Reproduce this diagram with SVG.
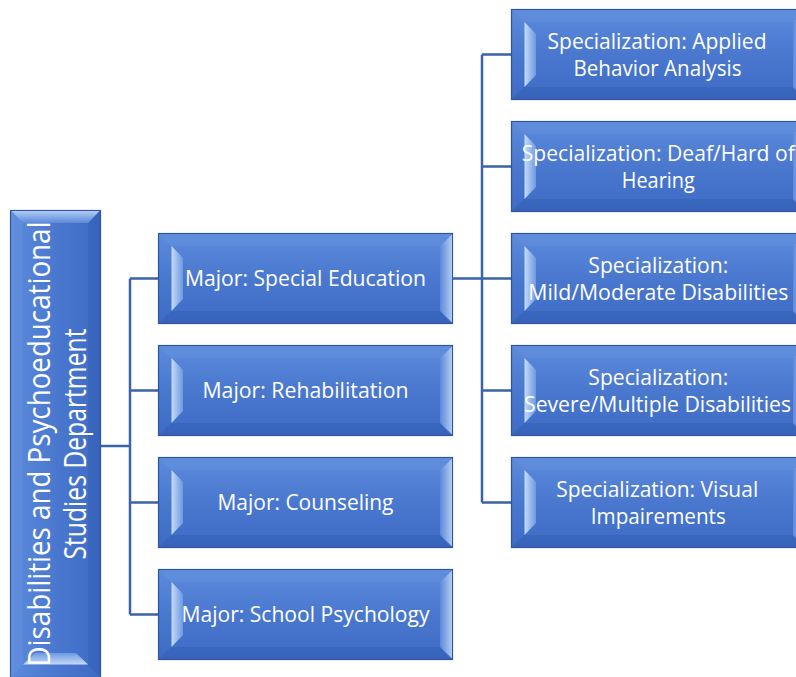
<svg xmlns="http://www.w3.org/2000/svg" xmlns:xlink="http://www.w3.org/1999/xlink" width="796" height="677" viewBox="0 0 796 677">
<style>
.t{font-family:"Open Sans","Noto Sans","Liberation Sans",sans-serif;fill:#FFFFFF;text-anchor:middle;}
.m{font-size:21px;}
.r{font-size:31px;}
.c{fill:none;stroke:#3B63AB;stroke-width:2.5;}
</style>
<defs>
<linearGradient id="face" x1="0" y1="0" x2="0" y2="1">
<stop offset="0" stop-color="#5C8ADB"/>
<stop offset="0.5" stop-color="#4A78CF"/>
<stop offset="1" stop-color="#3E6CC5"/>
</linearGradient>
<linearGradient id="lhl" x1="0" y1="0" x2="1" y2="0">
<stop offset="0" stop-color="#C6DBF8"/>
<stop offset="1" stop-color="#6D99E2"/>
</linearGradient>
<linearGradient id="rhl" x1="0" y1="0" x2="1" y2="0">
<stop offset="0" stop-color="#5C89D9"/>
<stop offset="1" stop-color="#AFCBF4"/>
</linearGradient>
<g id="box">
<rect x="0.5" y="0.5" width="294" height="90" fill="url(#face)" stroke="#2F5597" stroke-width="1.2"/>
<polygon points="1,1 294,1 282,13 13,13" fill="#6E98E0" opacity="0.3"/>
<polygon points="1,90 294,90 282,78 13,78" fill="#2C5AAE" opacity="0.4"/>
<polygon points="13.5,13 25,25 25,66 13.5,78" fill="url(#lhl)"/>
<polygon points="294,1.5 282,13 282,78 294,89.5" fill="url(#rhl)"/>
</g>
</defs>

<g id="connectors">
<path class="c" d="M101,446 H130 M130,278.5 V614.5 M130,278.5 H158 M130,390.5 H158 M130,502.5 H158 M130,614.5 H158"/>
<path class="c" d="M453,278.5 H482 M482,54.5 V502.5 M482,54.5 H511 M482,166.5 H511 M482,278.5 H511 M482,390.5 H511 M482,502.5 H511"/>
</g>

<g id="root" transform="translate(55.5,444) rotate(-90) translate(-234,-45.5)">
<rect x="0.5" y="0.5" width="467" height="90" fill="url(#face)" stroke="#2F5597" stroke-width="1.2"/>
<polygon points="1,1 467,1 455,13 13,13" fill="#6E98E0" opacity="0.3"/>
<polygon points="1,90 467,90 455,78 13,78" fill="#2C5AAE" opacity="0.4"/>
<polygon points="13.5,13 25,25 25,66 13.5,78" fill="url(#lhl)"/>
<polygon points="467,1.5 455,13 455,78 467,89.5" fill="url(#rhl)"/>
<text class="t r" x="234" y="39.5" textLength="445" lengthAdjust="spacingAndGlyphs">Disabilities and Psychoeducational</text>
<text class="t r" x="234" y="75.5" textLength="231" lengthAdjust="spacingAndGlyphs">Studies Department</text>
</g>

<g id="major-special-education">
<use xlink:href="#box" x="158" y="233"/>
<text class="t m" x="305.5" y="286" textLength="241" lengthAdjust="spacingAndGlyphs">Major: Special Education</text>
</g>
<g id="major-rehabilitation">
<use xlink:href="#box" x="158" y="345"/>
<text class="t m" x="305.5" y="398" textLength="206" lengthAdjust="spacingAndGlyphs">Major: Rehabilitation</text>
</g>
<g id="major-counseling">
<use xlink:href="#box" x="158" y="457"/>
<text class="t m" x="305.5" y="510" textLength="176" lengthAdjust="spacingAndGlyphs">Major: Counseling</text>
</g>
<g id="major-school-psychology">
<use xlink:href="#box" x="158" y="569"/>
<text class="t m" x="305.5" y="622" textLength="248" lengthAdjust="spacingAndGlyphs">Major: School Psychology</text>
</g>

<g id="spec-aba">
<use xlink:href="#box" x="511" y="9"/>
<text class="t m" x="657" y="48.5" textLength="219" lengthAdjust="spacingAndGlyphs">Specialization: Applied</text>
<text class="t m" x="657.5" y="76" textLength="168" lengthAdjust="spacingAndGlyphs">Behavior Analysis</text>
</g>
<g id="spec-deaf">
<use xlink:href="#box" x="511" y="121"/>
<text class="t m" x="658.3" y="160.5" textLength="273" lengthAdjust="spacingAndGlyphs">Specialization: Deaf/Hard of</text>
<text class="t m" x="658.3" y="188" textLength="73" lengthAdjust="spacingAndGlyphs">Hearing</text>
</g>
<g id="spec-mild">
<use xlink:href="#box" x="511" y="233"/>
<text class="t m" x="658.3" y="272.5" textLength="140" lengthAdjust="spacingAndGlyphs">Specialization:</text>
<text class="t m" x="658.3" y="300" textLength="260" lengthAdjust="spacingAndGlyphs">Mild/Moderate Disabilities</text>
</g>
<g id="spec-severe">
<use xlink:href="#box" x="511" y="345"/>
<text class="t m" x="658.3" y="384.5" textLength="140" lengthAdjust="spacingAndGlyphs">Specialization:</text>
<text class="t m" x="657.5" y="412" textLength="267" lengthAdjust="spacingAndGlyphs">Severe/Multiple Disabilities</text>
</g>
<g id="spec-visual">
<use xlink:href="#box" x="511" y="457"/>
<text class="t m" x="657.2" y="496.5" textLength="202" lengthAdjust="spacingAndGlyphs">Specialization: Visual</text>
<text class="t m" x="658.3" y="524" textLength="135" lengthAdjust="spacingAndGlyphs">Impairements</text>
</g>
</svg>
